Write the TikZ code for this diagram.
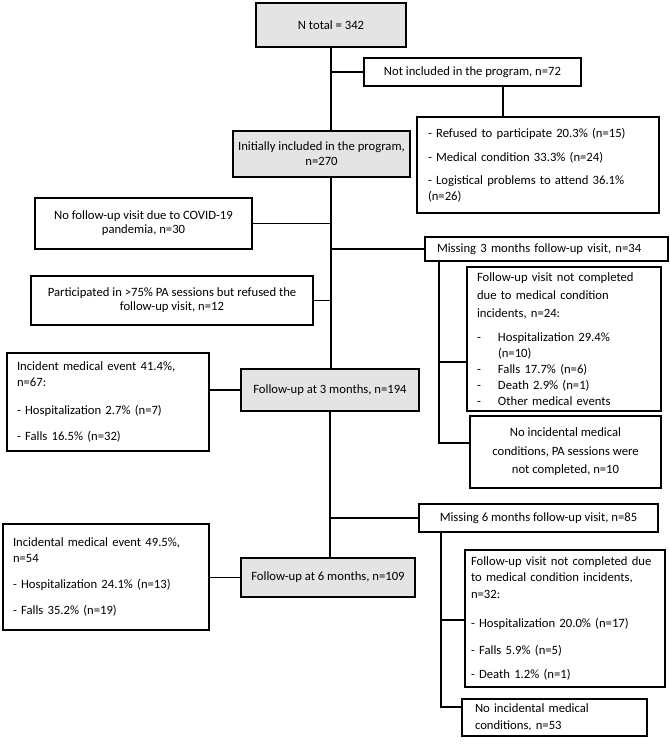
\documentclass[tikz,border=0pt]{standalone}
\usepackage{fontspec}
\setmainfont{Carlito}
\definecolor{cajagris}{RGB}{228,228,228}

\begin{document}
\begin{tikzpicture}[x=0.75pt, y=-0.75pt, line width=0.8pt,
		font=\fontsize{9.5pt}{12pt}\selectfont,
		caja/.style={draw, line width=0.8pt, inner sep=0pt, align=center},
		gris/.style={caja, fill=cajagris},
		izq/.style={caja, align=left}]
	\useasboundingbox (0,0) rectangle (669,748);

	\node[gris, minimum width=112.5pt, minimum height=33pt] (total) at (331,25) {N total = 342};
	\node[caja, minimum width=162.75pt, minimum height=21pt] (noinc) at (472.5,72) {Not included in the program, n=72};
	\node[izq, minimum width=181.5pt, minimum height=72pt, text width=165pt] (motivos) at (538,165)
		{- Refused to participate 20.3\% (n=15)\\[6pt]
		 - Medical condition 33.3\% (n=24)\\[5.25pt]
		 - Logistical problems to attend 36.1\%\\(n=26)};
	\node[gris, minimum width=132.75pt, minimum height=34.5pt] (inic) at (321.5,154) {Initially included in the program,\\[-0.75pt]n=270};
	\node[caja, minimum width=162.75pt, minimum height=38.25pt] (covid) at (143.5,223.5) {No follow-up visit due to COVID-19\\[-1.5pt]pandemia, n=30};
	\node[izq, minimum width=182.25pt, minimum height=18pt, text width=164.25pt] (falta3) at (546.5,249) {Missing 3 months follow-up visit, n=34};
	\node[caja, minimum width=211.5pt, minimum height=36.75pt] (rechazo) at (172,300.5) {Participated in >75\% PA sessions but refused the\\[-1.5pt]follow-up visit, n=12};
	\node[izq, minimum width=151.5pt, minimum height=73.5pt, text width=136.5pt] (evento3) at (108,402)
		{Incident medical event 41.4\%,\\n=67:\\[9pt]
		 - Hospitalization 2.7\% (n=7)\\[7.5pt]
		 - Falls 16.5\% (n=32)};
	\node[gris, minimum width=133.5pt, minimum height=31.5pt] (seg3) at (330,390) {Follow-up at 3 months, n=194};
	\node[izq, minimum width=145.5pt, minimum height=108pt, text width=130.5pt] (medico3) at (564,339)
		{Follow-up visit not completed\\[1.5pt]due to medical condition\\[1.5pt]incidents, n=24:\\[6pt]
		 \makebox[15.75pt][l]{-}Hospitalization 29.4\%\\
		 \hspace*{15.75pt}(n=10)\\
		 \makebox[15.75pt][l]{-}Falls 17.7\% (n=6)\\
		 \makebox[15.75pt][l]{-}Death 2.9\% (n=1)\\
		 \makebox[15.75pt][l]{-}Other medical events};
	\node[caja, minimum width=143.25pt, minimum height=54pt] (sinmed3) at (565.5,452)
		{No incidental medical\\[1.8pt]conditions, PA sessions were\\[1.8pt]not completed, n=10};
	\node[caja, minimum width=179.25pt, minimum height=21pt] (falta6) at (538.5,518) {Missing 6 months follow-up visit, n=85};
	\node[gris, minimum width=130.5pt, minimum height=29.25pt] (seg6) at (328,577.5) {Follow-up at 6 months, n=109};
	\node[izq, minimum width=154.5pt, minimum height=79.5pt, text width=139.5pt] (evento6) at (106,577)
		{Incidental medical event 49.5\%,\\n=54\\[7.5pt]
		 - Hospitalization 24.1\% (n=13)\\[7.5pt]
		 - Falls 35.2\% (n=19)};
	\node[izq, minimum width=150pt, minimum height=102.75pt, text width=141pt] (medico6) at (565,618.5)
		{Follow-up visit not completed due\\to medical condition incidents,\\[0.4pt]n=32:\\[9.75pt]
		 - Hospitalization 20.0\% (n=17)\\[8.25pt]
		 - Falls 5.9\% (n=5)\\[6pt]
		 - Death 1.2\% (n=1)};
	\node[izq, minimum width=138.75pt, minimum height=27.75pt, text width=119.25pt] (sinmed6) at (554.5,717.5)
		{No incidental medical\\[0.75pt]conditions, n=53};

	\coordinate (r1) at (503,86);
	\coordinate (r3) at (439,261);
	\coordinate (r3a) at (439,362);
	\coordinate (r3b) at (439,443);
	\coordinate (r6) at (441,532);
	\coordinate (r6a) at (441,620);
	\coordinate (r6b) at (441,707);

	\draw (total.south) -- (total.south |- inic.north);
	\draw (total.south |- noinc.west) -- (noinc.west);
	\draw (r1) -- (r1 |- motivos.north);
	\draw (total.south |- inic.south) -- (total.south |- seg3.north);
	\draw (covid.east) -- (covid.east -| total.south);
	\draw (falta3.west -| total.south) -- (falta3.west);
	\draw (rechazo.east) -- (rechazo.east -| total.south);
	\draw (r3) -- (r3b) -- (r3b -| sinmed3.west);
	\draw (r3a) -- (r3a -| medico3.west);
	\draw (seg3.west) -- (seg3.west -| evento3.east);
	\draw (seg3.south) -- (seg3.south |- seg6.north);
	\draw (seg3.south |- falta6.west) -- (falta6.west);
	\draw (seg6.west) -- (seg6.west -| evento6.east);
	\draw (r6) -- (r6b) -- (r6b -| sinmed6.west);
	\draw (r6a) -- (r6a -| medico6.west);
\end{tikzpicture}
\end{document}
